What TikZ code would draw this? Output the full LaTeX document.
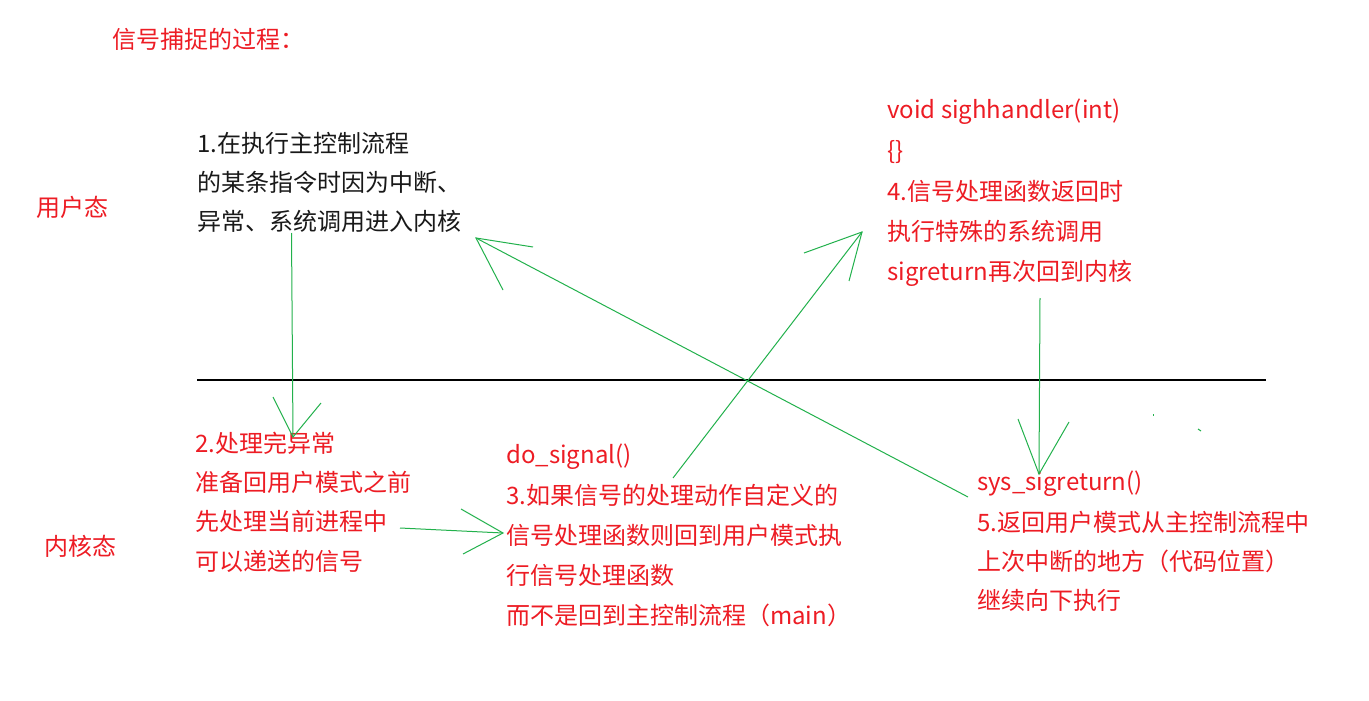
\documentclass[tikz,border=0pt]{standalone}
\usepackage{fontspec}
\setmainfont{Noto Sans CJK SC}
\definecolor{pred}{RGB}{237,28,36}
\definecolor{pgreen}{RGB}{34,177,76}
\definecolor{ptext}{RGB}{25,25,25}
\begin{document}
\begin{tikzpicture}[x=1pt,y=-1pt,
  txt/.style={anchor=base west, inner sep=0pt, font=\fontsize{24}{28}\selectfont},
  redtxt/.style={txt, text=pred},
  blktxt/.style={txt, text=ptext},
  gline/.style={draw=pgreen, line width=1pt},
  divider/.style={draw=black, line width=1.2pt}]
\useasboundingbox (0,0) rectangle (1369,701);
\fill[white] (0,0) rectangle (1369,701);

% title and mode labels
\node[redtxt] (title) at (112,49) {信号捕捉的过程：};
\node[redtxt] (user) at (36,216) {用户态};
\node[redtxt] (kern) at (44,555) {内核态};

% block 1
\node[blktxt] (b1a) at (197,152) {1.在执行主控制流程};
\node[blktxt] (b1b) at (197,191) {的某条指令时因为中断、};
\node[blktxt] (b1c) at (197,230) {异常、系统调用进入内核};

% block 2
\node[redtxt] (b2a) at (195,452) {2.处理完异常};
\node[redtxt] (b2b) at (195,491) {准备回用户模式之前};
\node[redtxt] (b2c) at (195,530) {先处理当前进程中};
\node[redtxt] (b2d) at (195,570) {可以递送的信号};

% block 3
\node[redtxt] (b3a) at (506,463) {do\_signal()};
\node[redtxt] (b3b) at (506,504) {3.如果信号的处理动作自定义的};
\node[redtxt] (b3c) at (506,544) {信号处理函数则回到用户模式执};
\node[redtxt] (b3d) at (506,584) {行信号处理函数};
\node[redtxt] (b3e) at (506,624) {而不是回到主控制流程（main）};

% block 4
\node[redtxt] (b4a) at (887,118) {void sighhandler(int)};
\node[redtxt] (b4b) at (887,159) {\{\}};
\node[redtxt] (b4c) at (887,200) {4.信号处理函数返回时};
\node[redtxt] (b4d) at (887,240) {执行特殊的系统调用};
\node[redtxt] (b4e) at (887,280) {sigreturn再次回到内核};

% block 5
\node[redtxt] (b5a) at (977,490) {sys\_sigreturn()};
\node[redtxt] (b5b) at (977,531) {5.返回用户模式从主控制流程中};
\node[redtxt] (b5c) at (977,570) {上次中断的地方（代码位置）};
\node[redtxt] (b5d) at (977,609) {继续向下执行};

% divider between user and kernel mode
\coordinate (dl) at (197,380);
\coordinate (dr) at (1266,380);
\draw[divider] (dl) -- (dr);

% arrow 1 -> 2
\coordinate (a1s) at (291.5,233);
\coordinate (a1t) at (293,437);
\coordinate (a1l) at (273,397);
\coordinate (a1r) at (321,403);
\draw[gline] (a1s) -- (a1t);
\draw[gline] (a1l) -- (a1t) -- (a1r);

% arrow 2 -> 3
\coordinate (a2s) at (400,528);
\coordinate (a2t) at (503,533);
\coordinate (a2l) at (461,509);
\coordinate (a2r) at (463,554);
\draw[gline] (a2s) -- (a2t);
\draw[gline] (a2l) -- (a2t) -- (a2r);

% arrow 3 -> 4
\coordinate (a3s) at (673,478);
\coordinate (a3t) at (862,232);
\coordinate (a3l) at (804,253);
\coordinate (a3r) at (849,281);
\draw[gline] (a3s) -- (a3t);
\draw[gline] (a3l) -- (a3t) -- (a3r);

% arrow 4 -> sys_sigreturn
\coordinate (a4s) at (1040,298);
\coordinate (a4t) at (1039,474);
\coordinate (a4l) at (1018,419);
\coordinate (a4r) at (1069,422);
\draw[gline] (a4s) -- (a4t);
\draw[gline] (a4l) -- (a4t) -- (a4r);

% arrow 5 -> 1
\coordinate (a5s) at (968,497);
\coordinate (a5t) at (476,238);
\coordinate (a5l) at (533,247);
\coordinate (a5r) at (503,290);
\draw[gline] (a5s) -- (a5t);
\draw[gline] (a5l) -- (a5t) -- (a5r);

% stray marks
\coordinate (m1a) at (1153,414);
\coordinate (m1b) at (1153,416);
\coordinate (m2a) at (1198,429);
\coordinate (m2b) at (1201,431);
\draw[gline] (m1a) -- (m1b);
\draw[gline] (m2a) -- (m2b);
\end{tikzpicture}
\end{document}
